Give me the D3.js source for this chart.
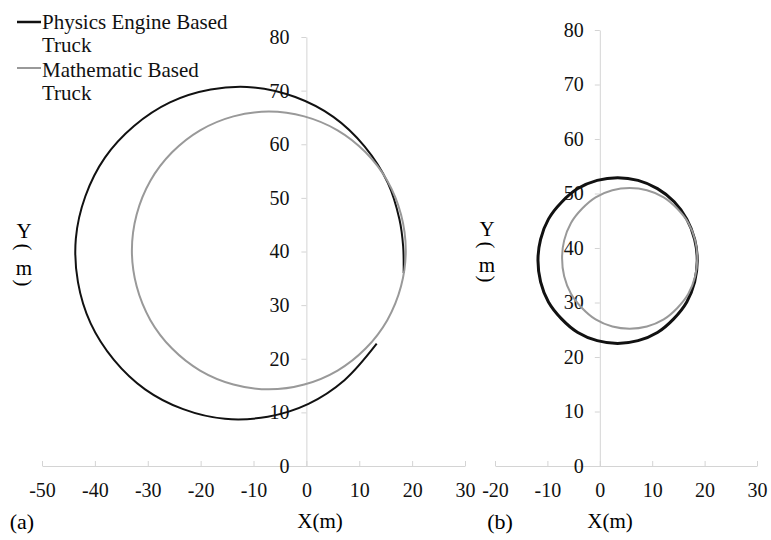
<!DOCTYPE html>
<html><head><meta charset="utf-8">
<script src="https://cdn.jsdelivr.net/npm/d3@7"></script>
<style>body{margin:0;background:#fff}svg{display:block}svg text{font-family:"Liberation Serif","Times New Roman","DejaVu Serif",serif !important}</style>
</head><body><svg id="c" width="771" height="540"></svg>
<script>
// ---- data ----
const yTicks = [0, 10, 20, 30, 40, 50, 60, 70, 80];
const xTicksA = [-50, -40, -30, -20, -10, 0, 10, 20, 30];
const xTicksB = [-20, -10, 0, 10, 20, 30];
const seriesNames = ["Physics Engine Based Truck", "Mathematic Based Truck"];

// (a) physics engine based truck (open arc)
const physicsA = [[18.4,36.0],[18.3,41.0],[17.6,46.0],[15.4,52.8],[11.0,59.6],[5.1,65.1],[-2.1,68.8],[-10.0,70.6],
  [-18.1,70.2],[-25.8,67.8],[-32.6,63.4],[-38.1,57.5],[-41.8,50.3],[-43.6,42.4],[-43.2,34.3],
  [-40.8,26.6],[-36.4,19.8],[-30.5,14.3],[-23.3,10.6],[-15.4,8.8],[-7.3,9.2],[0.4,11.6],[7.2,16.0],[13.3,22.8]];
// (a) mathematic based truck (closed)
const mathA = [[18.8,40.2],[17.9,46.9],[15.3,53.2],[11.2,58.5],[5.9,62.6],[-0.4,65.2],[-7.1,66.1],
  [-13.8,65.2],[-20.1,62.6],[-25.4,58.5],[-29.5,53.2],[-32.1,46.9],[-33.0,40.2],[-32.1,33.5],
  [-29.5,27.2],[-25.4,21.9],[-20.1,17.8],[-13.8,15.2],[-7.1,14.3],[-0.4,15.2],[5.9,17.8],
  [11.2,21.9],[15.3,27.2],[17.9,33.5]];
// (b) physics engine based truck (closed)
const physicsB = [[18.6,37.7],[18.1,41.6],[16.6,45.3],[14.2,48.5],[11.0,50.9],[7.3,52.4],[3.4,52.9],
  [-0.5,52.4],[-4.2,50.9],[-7.3,48.4],[-9.8,45.3],[-11.3,41.6],[-11.8,37.7],[-11.3,33.8],
  [-9.8,30.1],[-7.3,27.0],[-4.2,24.5],[-0.5,23.0],[3.4,22.5],[7.3,23.0],[11.0,24.5],
  [14.1,27.0],[16.6,30.1],[18.1,33.8]];
// (b) mathematic based truck (closed)
const mathB = [[18.6,38.1],[18.2,41.4],[16.9,44.6],[14.8,47.2],[12.2,49.3],[9.0,50.6],[5.7,51.0],
  [2.4,50.6],[-0.8,49.3],[-3.4,47.2],[-5.5,44.6],[-6.8,41.4],[-7.2,38.1],[-6.8,34.8],
  [-5.5,31.6],[-3.4,29.0],[-0.8,26.9],[2.4,25.6],[5.7,25.2],[9.0,25.6],[12.2,26.9],
  [14.8,29.0],[16.9,31.6],[18.2,34.8]];

// ---- drawing ----
const svg = d3.select("#c");
const FONT = '"Liberation Serif","Times New Roman","DejaVu Serif",serif';
const AX = "#d4d4d4";
const fmt = d => String(d);

function panel(cfg) {
  const x = d3.scaleLinear().domain([cfg.xTicks[0], cfg.xTicks[cfg.xTicks.length-1]]).range(cfg.xr);
  const y = d3.scaleLinear().domain([0, 80]).range(cfg.yr);
  const g = svg.append("g");

  const xa = g.append("g").attr("transform", `translate(0,${y(0)})`)
    .call(d3.axisBottom(x).tickValues(cfg.xTicks).tickSizeInner(-5).tickSizeOuter(0).tickPadding(17).tickFormat(fmt));
  const ya = g.append("g").attr("transform", `translate(${x(0)},0)`)
    .call(d3.axisLeft(y).tickValues(yTicks).tickSizeInner(5).tickSizeOuter(0).tickPadding(cfg.ypad).tickFormat(fmt));
  [xa, ya].forEach(a => {
    a.attr("font-family", null).attr("font-size", null);
    a.selectAll("path,line").attr("stroke", AX).attr("stroke-width", 1);
    a.selectAll("text").style("font-family", FONT).style("font-size", "20px").attr("fill", "#111");
  });
  xa.selectAll("text").attr("dy", "0.71em");

  const line = d3.line().x(d => x(d[0])).y(d => y(d[1]));
  cfg.series.forEach(s => {
    g.append("path")
      .attr("d", line.curve(s.closed ? d3.curveCatmullRomClosed : d3.curveCatmullRom)(s.data))
      .attr("fill", "none").attr("stroke", s.color).attr("stroke-width", s.w);
  });

  g.append("text").attr("x", cfg.xt[0]).attr("y", cfg.xt[1]).attr("text-anchor", "middle")
    .style("font-family", FONT).style("font-size", "21px").text("X(m)");
  g.append("text").attr("x", cfg.lab[0]).attr("y", cfg.lab[1]).attr("text-anchor", "middle")
    .style("font-family", FONT).style("font-size", "22px").text(cfg.label);
  const chars = ["Y", "(", "m", ")"];
  chars.forEach((c, i) => {
    const t = g.append("text").attr("text-anchor", "middle").attr("dominant-baseline", "central")
      .style("font-family", FONT).style("font-size", "21px").text(c);
    const cy = cfg.yt[i];
    if (c === "(" || c === ")") t.attr("transform", `translate(${cfg.ytx},${cy}) rotate(90)`);
    else t.attr("x", cfg.ytx).attr("y", cy);
  });
}

panel({
  xTicks: xTicksA, xr: [42, 465], yr: [466, 37], ypad: 12,
  xt: [320, 528], lab: [22, 529], label: "(a)", ytx: 24, yt: [231, 247, 268, 283],
  series: [
    {data: physicsA, closed: false, color: "#111", w: 2},
    {data: mathA, closed: true, color: "#999", w: 2}
  ]
});
panel({
  xTicks: xTicksB, xr: [495, 757], yr: [466, 30], ypad: 11,
  xt: [610, 528], lab: [500, 529], label: "(b)", ytx: 487, yt: [229, 245, 265, 279],
  series: [
    {data: physicsB, closed: true, color: "#111", w: 3},
    {data: mathB, closed: true, color: "#999", w: 2}
  ]
});

// legend
const legend = svg.append("g");
const legendRows = [
  {color: "#111", w: 2.5, ly: 22, lines: ["Physics Engine Based", "Truck"], by: [29, 52]},
  {color: "#999", w: 2, ly: 68, lines: ["Mathematic Based", "Truck"], by: [77, 100]}
];
legendRows.forEach((r, i) => {
  legend.append("line").attr("x1", 17).attr("x2", 41).attr("y1", r.ly).attr("y2", r.ly)
    .attr("stroke", r.color).attr("stroke-width", r.w);
  const t = legend.append("text").style("font-family", FONT).style("font-size", "21px").attr("fill", "#111");
  r.lines.forEach((s, j) => t.append("tspan").attr("x", 42).attr("y", r.by[j]).text(s));
});
</script>
</body></html>
